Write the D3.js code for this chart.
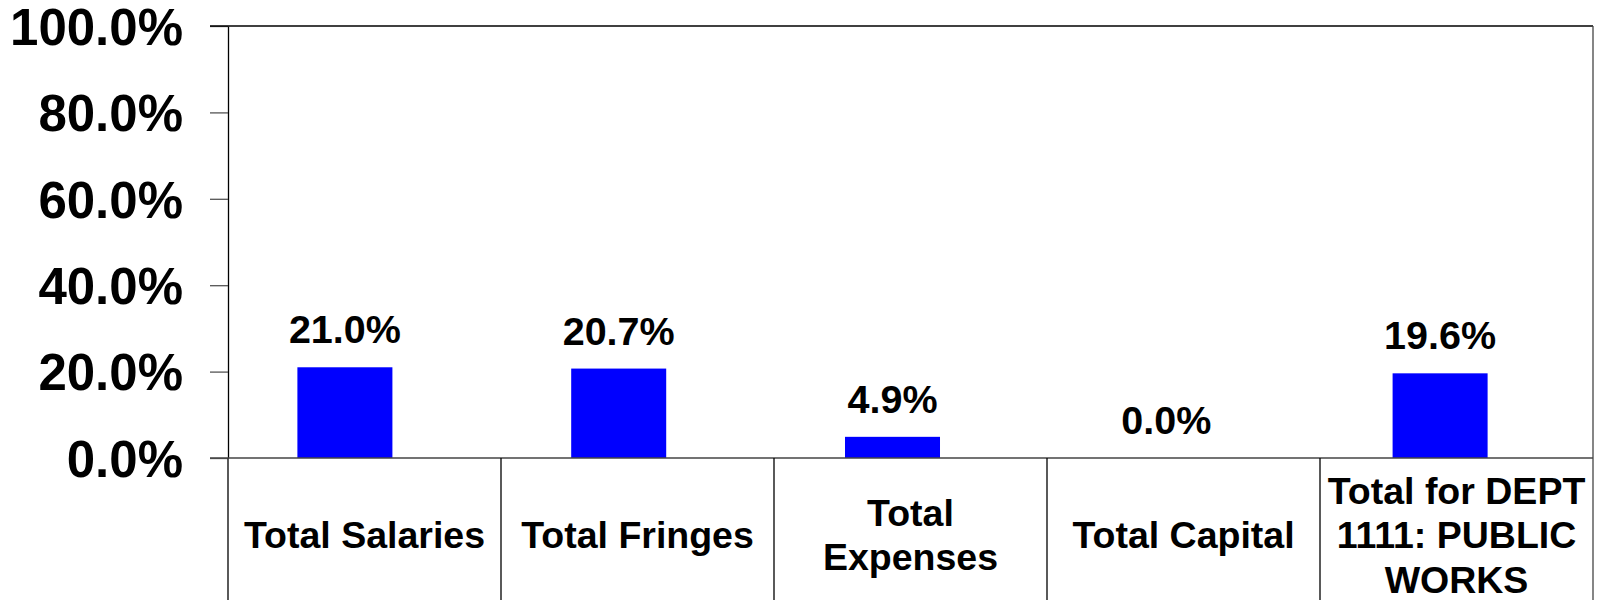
<!DOCTYPE html>
<html>
<head>
<meta charset="utf-8">
<script src="https://cdn.jsdelivr.net/npm/d3@7"></script>
<style>
  html, body { margin: 0; padding: 0; background: #ffffff; }
  svg { display: block; }
  text { font-family: "Liberation Sans", Arial, Helvetica, sans-serif; font-weight: bold; fill: #000; }
</style>
</head>
<body>
<svg id="chart" width="1599" height="600"></svg>
<script>
// Budget categories, each label split into its display lines
const categories = ["Total Salaries", "Total Fringes", "Total Expenses", "Total Capital", "Total for DEPT 1111: PUBLIC WORKS"];
const categoryLines = [
  ["Total Salaries"],
  ["Total Fringes"],
  ["Total", "Expenses"],
  ["Total Capital"],
  ["Total for DEPT", "1111: PUBLIC", "WORKS"]
];
// Percent of budget used, per category
const percentUsed = [0.210, 0.207, 0.049, 0.000, 0.196];
// Value-axis ticks
const yTicks = [0, 0.2, 0.4, 0.6, 0.8, 1.0];

const W = 1599, H = 600;
const plot = { left: 228, right: 1593, top: 26, bottom: 458 };
const tickLen = 18;

const svg = d3.select("#chart");

const y = d3.scaleLinear().domain([0, 1]).range([plot.bottom, plot.top]);

// Cells of the category table under the axis
const xCell = d3.scaleBand().domain(categories).range([plot.left, plot.right]).padding(0);
// Bar slots (shifted slightly left of the cells, as the chart is laid out)
const xBar = d3.scaleBand().domain(categories).range([208, 1577])
  .paddingInner(0.653).paddingOuter(0.3265);

const fmt = d3.format(".1%");

// Value axis
const yAxis = d3.axisLeft(y)
  .tickValues(yTicks)
  .tickFormat(fmt)
  .tickSize(tickLen)
  .tickSizeOuter(0)
  .tickPadding(27);

const gy = svg.append("g")
  .attr("transform", `translate(${plot.left},0)`)
  .call(yAxis);
gy.select(".domain").attr("stroke", "#000").attr("stroke-width", 1.3);
gy.selectAll(".tick line").attr("stroke", "#555").attr("stroke-width", 1.3);
gy.selectAll(".tick text")
  .attr("font-size", 51)
  .attr("font-family", "'Liberation Sans', Arial, sans-serif")
  .attr("font-weight", "bold")
  .attr("fill", "#000")
  .attr("dy", "0.36em");

// Frame: top edge (extends over the 100% tick), right edge, left edge down into the table
svg.append("line")
  .attr("x1", plot.left - tickLen).attr("x2", plot.right)
  .attr("y1", y(1)).attr("y2", y(1))
  .attr("stroke", "#000").attr("stroke-width", 1.5);
svg.append("line")
  .attr("x1", plot.right).attr("x2", plot.right)
  .attr("y1", y(1)).attr("y2", H)
  .attr("stroke", "#444").attr("stroke-width", 1.3);
svg.append("line")
  .attr("x1", plot.left).attr("x2", plot.left)
  .attr("y1", y(0)).attr("y2", H)
  .attr("stroke", "#000").attr("stroke-width", 1.3);

// Bars
svg.append("g").selectAll("rect")
  .data(categories)
  .join("rect")
  .attr("x", d => xBar(d))
  .attr("width", xBar.bandwidth())
  .attr("y", (d, i) => y(percentUsed[i]))
  .attr("height", (d, i) => y(0) - y(percentUsed[i]))
  .attr("fill", "#0000ff");

// Baseline (drawn over the bars)
svg.append("line")
  .attr("x1", plot.left - tickLen).attr("x2", plot.right)
  .attr("y1", y(0)).attr("y2", y(0))
  .attr("stroke", "#444").attr("stroke-width", 1.5);

// Value labels above bars
svg.append("g").selectAll("text")
  .data(categories)
  .join("text")
  .attr("x", d => xBar(d) + xBar.bandwidth() / 2)
  .attr("y", (d, i) => y(percentUsed[i]) - 24)
  .attr("text-anchor", "middle")
  .attr("font-size", 39.5)
  .text((d, i) => fmt(percentUsed[i]));

// Category table: dividers between cells
svg.append("g").selectAll("line")
  .data(categories.slice(1))
  .join("line")
  .attr("x1", d => xCell(d)).attr("x2", d => xCell(d))
  .attr("y1", y(0)).attr("y2", H)
  .attr("stroke", "#000").attr("stroke-width", 1.3);

// Category labels, vertically centred in their cells
const lineH = 44.5;
const labelMid = 534;
const cells = svg.append("g").selectAll("text")
  .data(categories)
  .join("text")
  .attr("text-anchor", "middle")
  .attr("font-size", 37.5);
cells.each(function (d, i) {
  const lines = categoryLines[i];
  const t = d3.select(this);
  const first = labelMid + 14 - (lines.length - 1) * lineH / 2;
  lines.forEach((ln, k) => {
    t.append("tspan")
      .attr("x", xCell(d) + xCell.bandwidth() / 2)
      .attr("y", first + k * lineH)
      .text(ln);
  });
});
</script>
</body>
</html>
